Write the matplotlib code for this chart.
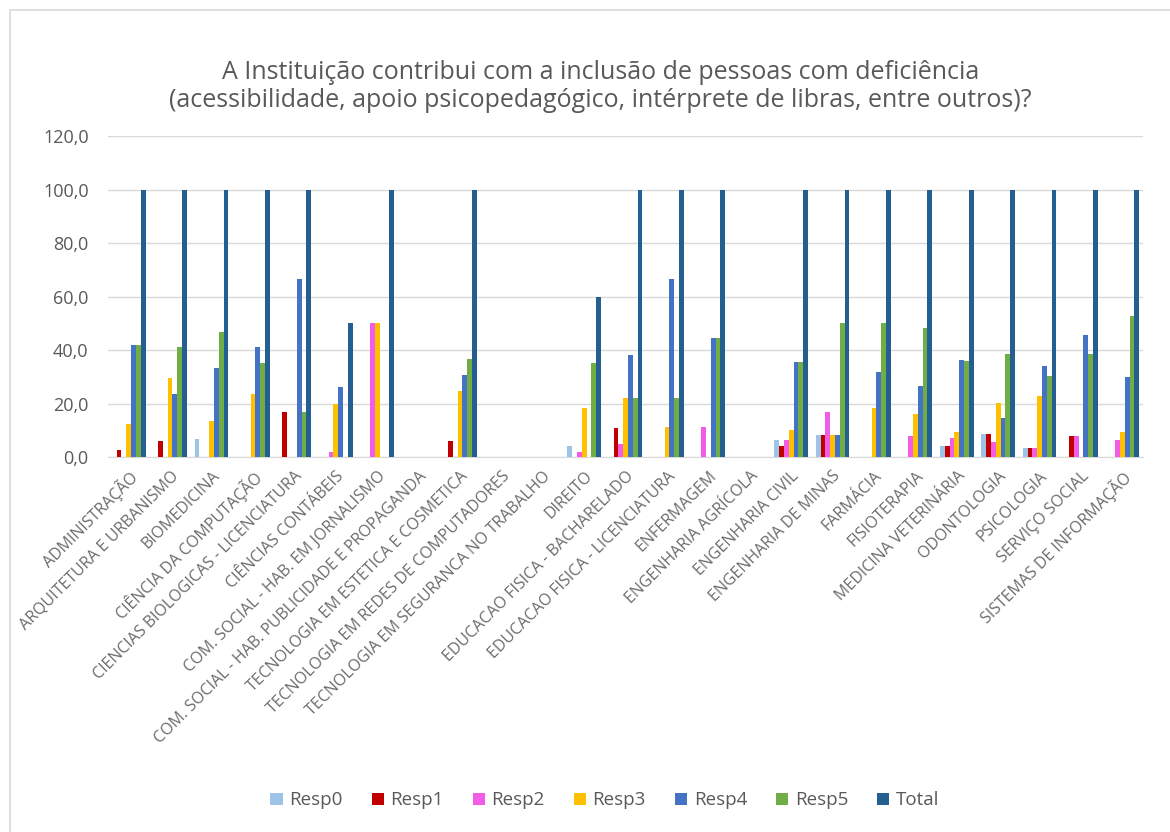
import numpy as np
import matplotlib
matplotlib.use("Agg")
import matplotlib.pyplot as plt
from matplotlib.patches import Rectangle

plt.rcParams['font.family'] = ['Open Sans', 'DejaVu Sans']

# Data
cursos = [
    "ADMINISTRAÇÃO", "ARQUITETURA E URBANISMO", "BIOMEDICINA",
    "CIÊNCIA DA COMPUTAÇÃO", "CIENCIAS BIOLOGICAS - LICENCIATURA",
    "CIÊNCIAS CONTÁBEIS", "COM. SOCIAL - HAB. EM JORNALISMO",
    "COM. SOCIAL - HAB. PUBLICIDADE E PROPAGANDA",
    "TECNOLOGIA EM ESTETICA E COSMETICA",
    "TECNOLOGIA EM REDES DE COMPUTADORES",
    "TECNOLOGIA EM SEGURANCA NO TRABALHO", "DIREITO",
    "EDUCACAO FISICA - BACHARELADO", "EDUCACAO FISICA - LICENCIATURA",
    "ENFERMAGEM", "ENGENHARIA AGRÍCOLA", "ENGENHARIA CIVIL",
    "ENGENHARIA DE MINAS", "FARMÁCIA", "FISIOTERAPIA",
    "MEDICINA VETERINÁRIA", "ODONTOLOGIA", "PSICOLOGIA",
    "SERVIÇO SOCIAL", "SISTEMAS DE INFORMAÇÃO",
]

resp0 = [0, 0, 6.7, 0, 0, 0, 0, 0, 0, 0, 0, 4.0, 0, 0, 0, 0, 6.5, 8.3, 0, 0, 4.0, 8.5, 3.5, 0, 0]
resp1 = [2.8, 5.9, 0, 0, 16.7, 0, 0, 0, 5.9, 0, 0, 0, 10.7, 0, 0, 0, 4.3, 8.3, 0, 0, 4.1, 8.5, 3.5, 7.7, 0]
resp2 = [0, 0, 0, 0, 0, 2.0, 50.0, 0, 0, 0, 0, 2.0, 5.0, 0, 11.1, 0, 6.5, 16.7, 0, 7.8, 7.2, 5.7, 3.5, 7.7, 6.3]
resp3 = [12.5, 29.4, 13.3, 23.5, 0, 20.0, 50.0, 0, 24.5, 0, 0, 18.2, 22.1, 11.1, 0, 0, 10.0, 8.3, 18.2, 15.9, 9.5, 20.3, 22.8, 0, 9.4]
resp4 = [41.7, 23.5, 33.3, 41.2, 66.7, 26.0, 0, 0, 30.5, 0, 0, 0, 38.3, 66.7, 44.4, 0, 35.7, 8.3, 31.8, 26.5, 36.1, 14.7, 34.0, 45.8, 29.8]
resp5 = [41.7, 41.2, 46.7, 35.3, 16.7, 0, 0, 0, 36.8, 0, 0, 35.0, 21.9, 22.2, 44.4, 0, 35.5, 50.0, 50.0, 48.3, 35.8, 38.6, 30.2, 38.5, 52.8]
total = [100, 100, 100, 100, 100, 50, 100, 0, 100, 0, 0, 60, 100, 100, 100, 0, 100, 100, 100, 100, 100, 100, 100, 100, 100]

series = [resp0, resp1, resp2, resp3, resp4, resp5, total]
nomes = ["Resp0", "Resp1", "Resp2", "Resp3", "Resp4", "Resp5", "Total"]
cores = ["#9DC3E6", "#C00000", "#F25CE6", "#FFC000", "#4472C4", "#70AD47", "#255E91"]

fig = plt.figure(figsize=(11.7, 8.32), dpi=100)
ax = fig.add_axes([0.0923, 0.4507, 0.8847, 0.3858])

x = np.arange(len(cursos))
w = 0.116
for i, (vals, nome, cor) in enumerate(zip(series, nomes, cores)):
    ax.bar(x + (i - 3) * w, vals, width=w, color=cor, label=nome, zorder=3)

ax.set_xlim(-0.5, len(cursos) - 0.5)
ax.set_ylim(0, 120)
ax.set_yticks(np.arange(0, 121, 20))
ax.set_yticklabels([f"{v:.1f}".replace(".", ",") for v in np.arange(0, 121, 20)])
ax.tick_params(axis='y', length=0, labelsize=13, labelcolor="#595959", pad=14)
ax.grid(axis='y', color="#D9D9D9", linewidth=1, zorder=0)

ax.set_xticks(x)
ax.set_xticklabels(cursos, rotation=45, ha='right', va='top', rotation_mode='anchor',
                   fontsize=11.5, color="#6B6B6B")
ax.tick_params(axis='x', length=0, pad=8)

for s in ['top', 'right', 'left']:
    ax.spines[s].set_visible(False)
ax.spines['bottom'].set_color("#D9D9D9")

fig.text(0.513, 0.896,
         "A Instituição contribui com a inclusão de pessoas com deficiência\n"
         "(acessibilidade, apoio psicopedagógico, intérprete de libras, entre outros)?",
         ha='center', va='center', fontsize=18, color="#595959", linespacing=1.15)

fig.legend(loc='center', bbox_to_anchor=(0.517, 0.038), ncol=7, frameon=False,
           fontsize=13.5, labelcolor="#595959", handlelength=0.65, handleheight=0.65,
           handletextpad=0.35, columnspacing=1.55)

# chart frame
fig.patches.append(Rectangle((10 / 1170, -0.05), 1.2, 1 - 10 / 832 + 0.05,
                             transform=fig.transFigure, fill=False,
                             edgecolor="#D9D9D9", linewidth=1.2))

fig.savefig("out.png", dpi=100)
